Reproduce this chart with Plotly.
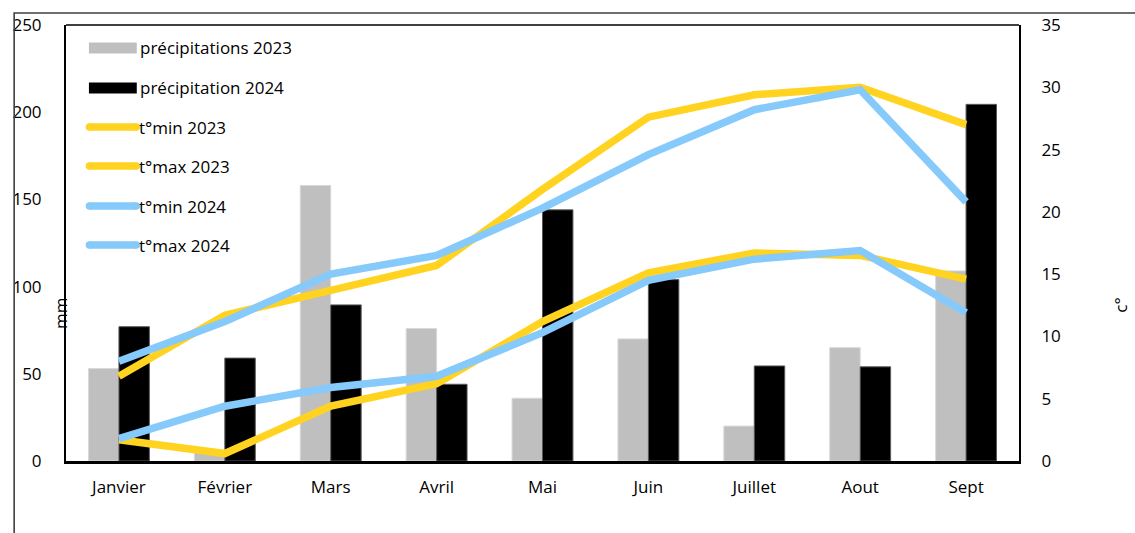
import plotly.graph_objects as go

# Monthly data
months = ["Janvier", "Février", "Mars", "Avril", "Mai", "Juin", "Juillet", "Aout", "Sept"]
precip_2023 = [53, 5, 158, 76, 36, 70, 20, 65, 109]
precip_2024 = [77, 59, 89.5, 44, 144, 104, 54.5, 54, 204.5]
tmin_2023 = [1.7, 0.6, 4.4, 6.2, 11.2, 15.1, 16.7, 16.5, 14.6]
tmax_2023 = [6.8, 11.7, 13.7, 15.7, 21.8, 27.6, 29.4, 30.0, 27.0]
tmin_2024 = [1.8, 4.4, 5.9, 6.8, 10.3, 14.5, 16.2, 16.9, 11.9]
tmax_2024 = [8.0, 11.2, 15.0, 16.5, 20.3, 24.6, 28.2, 29.8, 20.8]

W, H = 1135, 533
L, R, T, B = 63, 1019, 25, 461  # plot area in pixels

GRAY = "#bfbfbf"
BLACK = "#000000"
YELLOW = "#ffd320"
BLUE = "#86c9fb"
FONT = "Open Sans"
FS = 17


def px(x):
    return (x - L) / (R - L)


def py(y):
    return (B - y) / (B - T)


fig = go.Figure()
fig.add_bar(x=months, y=precip_2023, name="précipitations 2023",
            marker=dict(color=GRAY, line=dict(color="#d9d9d9", width=1)), yaxis="y")
fig.add_bar(x=months, y=precip_2024, name="précipitation 2024",
            marker=dict(color=BLACK, line=dict(color="#595959", width=1)), yaxis="y")

for name, vals, col in [("t°min 2023", tmin_2023, YELLOW),
                        ("t°max 2023", tmax_2023, YELLOW),
                        ("t°min 2024", tmin_2024, BLUE),
                        ("t°max 2024", tmax_2024, BLUE)]:
    fig.add_scatter(x=months, y=vals, name=name, mode="lines", yaxis="y2",
                    line=dict(color=col, width=7.5))

shapes = []
annotations = []

# outer chart frame and top border of the plot area
shapes.append(dict(type="rect", xref="paper", yref="paper",
                   x0=px(11), x1=px(1145), y0=py(13), y1=py(545),
                   line=dict(color="#404040", width=1.6), fillcolor="rgba(0,0,0,0)"))
shapes.append(dict(type="line", xref="paper", yref="paper",
                   x0=0, x1=1, y0=1, y1=1, line=dict(color="#000", width=1.6)))

# legend drawn inside the plot area
legend_rows = [
    ("précipitations 2023", "bar", GRAY, 48),
    ("précipitation 2024", "bar", BLACK, 88),
    ("t°min 2023", "line", YELLOW, 127),
    ("t°max 2023", "line", YELLOW, 166),
    ("t°min 2024", "line", BLUE, 206),
    ("t°max 2024", "line", BLUE, 245),
]
for label, kind, col, yc in legend_rows:
    if kind == "bar":
        shapes.append(dict(type="rect", xref="paper", yref="paper",
                           x0=px(86), x1=px(134), y0=py(yc + 5.5), y1=py(yc - 5.5),
                           fillcolor=col, line=dict(width=0)))
        tx = 135
    else:
        shapes.append(dict(type="line", xref="paper", yref="paper",
                           x0=px(86.5), x1=px(133.5), y0=py(yc), y1=py(yc),
                           line=dict(color=col, width=7.5)))
        for cx in (86.5, 133.5):
            shapes.append(dict(type="circle", xref="paper", yref="paper",
                               xsizemode="pixel", ysizemode="pixel",
                               xanchor=px(cx), yanchor=py(yc),
                               x0=-3.75, x1=3.75, y0=-3.75, y1=3.75,
                               fillcolor=col, line=dict(width=0)))
        tx = 134
    annotations.append(dict(xref="paper", yref="paper", x=px(tx), y=py(yc),
                            xanchor="left", yanchor="middle", text=label,
                            showarrow=False, font=dict(family=FONT, size=FS, color="#000")))

# axis titles
annotations.append(dict(xref="paper", yref="paper", x=px(57), y=py(314), text="mm",
                        textangle=-90, showarrow=False, xanchor="center", yanchor="middle",
                        font=dict(family=FONT, size=FS, color="#000")))
annotations.append(dict(xref="paper", yref="paper", x=px(1121), y=py(305), text="c°",
                        textangle=-90, showarrow=False, xanchor="center", yanchor="middle",
                        font=dict(family=FONT, size=FS, color="#000")))

fig.update_layout(
    width=W, height=H,
    margin=dict(l=L, r=W - R, t=T, b=H - B, pad=0),
    paper_bgcolor="white", plot_bgcolor="white",
    font=dict(family=FONT, size=FS, color="#000"),
    barmode="group", bargap=0.425, bargroupgap=0,
    showlegend=False,
    shapes=shapes, annotations=annotations,
    xaxis=dict(range=[-0.5, 8.5], showline=True, linecolor="#000", linewidth=2.5,
               ticks="", ticklabelstandoff=9, showgrid=False, zeroline=False,
               tickfont=dict(family=FONT, size=FS, color="#000")),
    yaxis=dict(range=[0, 250], dtick=50, showline=True, linecolor="#000", linewidth=2,
               ticks="", ticklabelstandoff=19, showgrid=False, zeroline=False,
               tickfont=dict(family=FONT, size=FS, color="#000")),
    yaxis2=dict(range=[0, 35], dtick=5, overlaying="y", side="right", showline=True,
                linecolor="#000", linewidth=2, ticks="", ticklabelstandoff=17,
                showgrid=False, zeroline=False,
                tickfont=dict(family=FONT, size=FS, color="#000")),
)

fig.write_html("out.html")
